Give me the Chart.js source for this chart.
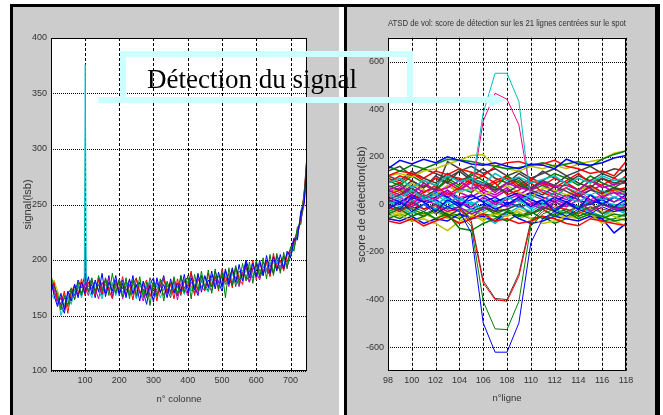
<!DOCTYPE html>
<html lang="fr">
<head>
<meta charset="utf-8">
<script src="https://cdn.jsdelivr.net/npm/chart.js"></script>
<style>
  body { margin: 0; background: #fff; width: 663px; height: 415px; overflow: hidden; position: relative; }
  .trait { position: absolute; background: #000; }
  .panneau { position: absolute; background: #cccccc; }
  canvas { position: absolute; }
</style>
</head>
<body>
<div class="trait" style="left:10px;top:4px;width:650px;height:3px"></div>
<div class="trait" style="left:10px;top:4px;width:3px;height:411px"></div>
<div class="panneau" style="left:13px;top:7px;width:326px;height:408px"></div>
<div class="trait" style="left:344px;top:4px;width:3px;height:411px"></div>
<div class="panneau" style="left:347px;top:7px;width:308px;height:408px"></div>
<div class="trait" style="left:655px;top:4px;width:5px;height:411px"></div>
<canvas id="gauche" width="326" height="408" style="left:13px;top:7px"></canvas>
<canvas id="droite" width="308" height="408" style="left:347px;top:7px"></canvas>
<canvas id="annot" width="663" height="415" style="left:0;top:0;pointer-events:none"></canvas>
<script>
// ---- graphe de gauche : signal par colonne ----
const colonnes = [1,10,20,30,40,50,60,70,80,90,100,110,120,130,140,150,160,170,180,190,200,210,220,230,240,250,260,270,280,290,300,310,320,330,340,350,360,370,380,390,400,410,420,430,440,450,460,470,480,490,500,510,520,530,540,550,560,570,580,590,600,610,620,630,640,650,660,670,680,690,700,710,720,730,740,748];
const signalA = [182,168,158,170,155,172,163,178,166,180,170,185,169,182,171,188,167,180,172,186,168,179,166,183,170,178,163,181,168,177,162,184,171,178,166,183,170,179,172,187,170,184,173,188,171,186,175,190,174,189,176,192,178,193,180,196,181,198,184,197,185,200,186,204,188,203,190,205,192,208,202,218,220,242,252,290];
const signalB = [186,176,170,155,168,158,175,164,180,168,182,171,184,170,186,172,183,168,188,170,182,167,184,165,182,168,185,166,180,159,181,167,183,163,181,170,185,168,186,171,186,165,187,172,190,173,191,170,192,174,190,166,193,177,195,178,197,181,198,179,200,184,202,183,205,186,206,188,207,192,212,208,230,232,262,280];
const signalC = [175,180,163,160,172,152,170,178,168,183,168,180,174,168,183,170,181,173,165,182,172,185,168,178,164,183,170,176,182,167,178,163,180,184,170,178,165,183,170,181,175,190,168,183,176,172,188,176,186,172,192,180,188,175,193,183,178,196,186,200,182,197,188,198,185,206,192,200,190,204,210,216,226,236,260,292];
const signalD = [170,165,168,150,160,168,160,173,177,166,178,174,166,180,173,165,178,172,180,168,176,171,179,170,176,165,178,170,176,181,170,177,166,174,180,169,178,171,176,169,181,172,178,174,183,176,171,183,178,186,175,186,180,188,179,184,191,183,193,184,193,188,195,189,198,190,199,193,200,196,204,212,222,240,256,284];
const signalE = [180,174,160,166,158,166,172,165,176,171,176,168,181,174,165,180,171,184,170,176,180,165,176,182,169,177,172,163,175,180,168,174,178,168,177,172,180,164,179,176,168,180,176,170,182,185,177,172,184,180,178,185,176,190,184,176,189,186,180,193,189,182,194,190,196,188,198,194,202,198,207,210,224,236,250,288];
const signalF = [176,182,172,164,170,162,166,174,170,177,172,178,172,176,180,175,173,177,175,180,174,178,172,176,180,172,176,179,171,176,174,170,176,172,176,180,174,177,181,175,178,174,182,178,175,181,184,178,180,185,180,182,186,182,188,187,185,190,187,188,192,190,191,195,192,197,194,198,196,200,206,215,222,238,258,282];
const signalG = [184,170,164,158,166,160,170,176,172,170,180,176,183,172,178,168,184,174,178,170,183,174,180,168,178,184,170,174,166,184,176,180,170,183,174,166,182,176,168,182,184,176,170,186,180,178,172,186,182,176,186,178,182,192,176,190,186,194,180,192,195,186,198,192,186,200,196,190,204,194,203,214,228,234,262,294];
const signalH = [172,178,166,160,152,170,174,168,182,175,186,172,178,166,184,176,170,186,166,180,170,182,174,170,186,166,180,172,160,178,184,168,176,186,170,180,174,168,186,170,178,188,176,168,186,174,182,176,190,180,172,190,182,178,194,182,186,200,190,184,198,190,186,200,196,188,204,198,194,206,208,220,218,244,254,296];
// pic de détection autour de la colonne 101
const picColonnes = [98, 101, 104];
const picCyan = [178, 376, 180];
const picMagenta = [172, 212, 176];
const xTicksGauche = [100, 200, 300, 400, 500, 600, 700];
const yTicksGauche = [100, 150, 200, 250, 300, 350, 400];

// ---- graphe de droite : score de détection par ligne ----
const lignes = [98,99,100,101,102,103,104,105,106,107,108,109,110,111,112,113,114,115,116,117,118];
const scoresFond = [
  [150,185,170,190,175,200,185,170,165,175,160,150,170,165,150,190,170,165,175,195,205],
  [160,140,165,150,170,190,185,180,170,160,150,155,165,175,160,170,180,160,190,210,225],
  [120,140,130,110,140,125,150,135,120,160,175,180,165,170,185,160,150,130,140,120,180],
  [90,110,70,100,80,120,95,110,85,130,100,115,90,105,120,85,110,90,120,100,110],
  [60,80,40,90,55,70,100,65,85,50,90,70,60,95,75,80,60,100,70,85,90],
  [120,130,115,140,150,170,185,205,210,160,150,140,160,150,165,150,170,180,190,215,225],
  [20,40,70,30,60,180,150,110,90,70,50,80,60,40,75,55,30,60,45,70,50],
  [0,-20,30,10,-30,20,-10,40,10,-20,0,30,-10,20,-30,10,-20,40,0,-10,20],
  [-40,-20,-50,-30,-60,-40,-100,-110,-80,-60,-30,-50,-40,-20,-50,-30,-60,-40,-50,-70,-60],
  [-70,-80,-60,-90,-70,-50,-80,-60,-40,-70,-60,-80,-70,-50,-60,-80,-90,-60,-70,-80,-90],
  [50,30,60,20,40,10,30,0,20,-10,30,10,40,20,50,30,10,40,20,30,10],
  [-20,10,-10,20,0,-30,-10,-40,-20,10,-10,20,0,-20,10,-10,20,-30,0,-20,-10],
  [-50,-40,-70,-60,-80,-110,-70,-50,-60,-40,-50,-30,-60,-80,-70,-50,-60,-40,-80,-70,-90],
  [80,60,100,70,120,90,140,100,80,60,90,110,70,100,80,120,90,70,110,90,100],
  [-60,-70,-50,-80,-60,-70,-40,-60,-50,-70,-30,-60,-80,-70,-50,-60,-70,-50,-60,-120,-80],
  [100,80,120,90,60,110,80,130,100,70,120,90,60,100,130,110,80,120,90,70,100],
  [40,60,20,50,80,40,70,110,60,90,40,60,90,50,30,70,40,80,50,60,70],
  [-30,-10,-40,0,-20,10,-30,-20,-50,-80,-40,-10,-30,0,-20,-40,-10,-30,-50,-20,-40],
  [10,30,0,40,20,50,10,-10,30,0,20,40,10,-10,20,0,40,10,30,50,20],
  [70,50,90,60,40,80,50,70,40,60,80,50,30,70,60,40,60,80,40,60,50],
  [-10,-30,10,-20,0,-50,-20,-60,-10,-30,-20,0,-40,-10,-30,0,-20,10,-40,-10,-30],
  [30,10,40,20,50,30,0,20,40,10,30,50,20,0,30,10,40,20,0,30,10],
  [-40,-60,-30,-50,-20,-40,-60,-30,-10,-40,-20,-50,-30,-60,-40,-20,-50,-30,-60,-40,-50],
  [110,90,130,100,80,120,110,90,70,100,120,80,110,90,70,100,130,90,110,80,120],
  [0,20,-10,30,10,-20,20,0,-30,10,-10,20,-20,10,30,0,-10,20,0,-20,10],
  [60,40,80,50,70,30,60,90,50,30,60,40,70,90,50,70,40,60,80,50,40],
  [-20,-40,-10,-50,-30,-60,-20,-40,-70,-30,-50,-20,-40,-10,-30,-60,-40,-20,-30,-50,-70],
  [140,160,120,150,130,110,140,160,130,150,120,140,110,130,150,120,140,160,130,150,140],
  [20,0,40,10,30,60,20,40,10,30,0,20,50,30,10,40,20,0,30,10,40],
  [-60,-40,-70,-50,-30,-50,-80,-60,-40,-50,-70,-40,-60,-50,-80,-60,-30,-50,-70,-60,-40],
  [90,120,100,70,110,90,60,100,120,90,110,70,100,80,110,90,60,100,80,110,90],
  [10,-10,20,-20,0,30,-10,10,-20,20,-10,0,30,-20,10,-10,20,-30,10,0,-10],
  [50,70,30,60,40,80,50,30,60,40,70,30,50,60,40,20,50,70,30,60,40],
  [-30,-50,-20,-40,-60,-30,-50,-20,-40,-10,-30,-60,-40,-20,-50,-30,-10,-40,-60,-30,-20],
  [120,100,140,110,90,130,100,120,150,110,90,130,100,140,110,90,120,100,130,110,150],
  [-10,10,-20,0,20,-10,10,-20,0,-30,10,-10,0,20,-20,10,-10,0,20,-10,0],
  [70,90,50,80,60,100,70,50,90,60,80,100,60,80,50,90,60,80,50,70,60]
];
// lignes qui contiennent le spot
const scoreCyan    = [40,20,60,30,50,20,60,60,384,551,551,432,20,60,30,70,50,40,60,30,50];
const scoreMagenta = [30,50,10,40,20,60,30,40,350,467,442,334,40,20,50,30,60,20,40,10,30];
const scoreBleu    = [-20,10,-30,0,-40,-10,-30,-120,-498,-621,-621,-498,-162,-60,-30,-50,-20,-40,-10,-30,-20];
const scoreVert    = [-30,-10,-20,-40,-20,-50,-40,-92,-407,-523,-526,-407,-92,-40,-20,-50,-30,-10,-40,-20,-30];
const scoreRouge   = [-10,-30,0,-20,-10,-30,-20,-80,-330,-400,-407,-302,-80,-30,-10,-20,-40,-10,-20,-30,-10];
const scoreGris    = [0,-20,-10,-30,0,-20,-10,-70,-320,-395,-400,-290,-70,-20,0,-30,-10,-20,0,-10,-20];
const xTicksDroite = [98,100,102,104,106,108,110,112,114,116,118];
const yTicksDroite = [-600,-400,-200,0,200,400,600];

const couleurs = ['#0000ff', '#008000', '#ff0000', '#00bfbf', '#bf00bf', '#bfbf00', '#404040'];
const police = "'Liberation Sans', Arial, sans-serif";

function serie(xs, ys, color, width) {
  return {
    data: xs.map((x, i) => ({x: x, y: ys[i]})),
    borderColor: color,
    borderWidth: width || 1,
    pointRadius: 0,
    tension: 0,
    fill: false
  };
}

// fond blanc, grille pointillée style matlab, cadre noir
const cadre = {
  id: 'cadre',
  beforeDraw(chart) {
    const a = chart.chartArea, ctx = chart.ctx;
    ctx.save();
    ctx.fillStyle = '#fff';
    ctx.fillRect(a.left, a.top, a.width, a.height);
    ctx.restore();
  },
  beforeDatasetsDraw(chart) {
    const a = chart.chartArea, ctx = chart.ctx;
    const sx = chart.scales.x, sy = chart.scales.y;
    ctx.save();
    ctx.strokeStyle = '#000';
    ctx.lineWidth = 1;
    ctx.setLineDash([3, 2]);
    sx.ticks.forEach(t => {
      const px = Math.round(sx.getPixelForValue(t.value)) + 0.5;
      ctx.beginPath();
      ctx.moveTo(px, a.top);
      ctx.lineTo(px, a.bottom);
      ctx.stroke();
    });
    ctx.setLineDash([1, 1]);
    sy.ticks.forEach(t => {
      const py = Math.round(sy.getPixelForValue(t.value)) + 0.5;
      ctx.beginPath();
      ctx.moveTo(a.left, py);
      ctx.lineTo(a.right, py);
      ctx.stroke();
    });
    ctx.restore();
  },
  afterDraw(chart) {
    const a = chart.chartArea, ctx = chart.ctx;
    ctx.save();
    ctx.strokeStyle = '#000';
    ctx.lineWidth = 1;
    ctx.strokeRect(Math.round(a.left) + 0.5, Math.round(a.top) + 0.5, Math.round(a.width) - 1, Math.round(a.height) - 1);
    ctx.restore();
  }
};

function axe(min, max, ticks, fit, titre) {
  return {
    type: 'linear',
    min: min,
    max: max,
    afterBuildTicks: s => { s.ticks = ticks.map(v => ({value: v})); },
    afterFit: fit,
    grid: { display: false, drawTicks: false },
    border: { display: false },
    ticks: { font: { family: police, size: 9 }, color: '#333', padding: 4, maxRotation: 0, autoSkip: false },
    title: titre
  };
}

Chart.defaults.animation = false;

// graphe de gauche
const datasetsGauche = [
  serie(picColonnes, picCyan, couleurs[3]),
  serie(picColonnes, picMagenta, couleurs[4]),
  serie(colonnes, signalA, couleurs[0]),
  serie(colonnes, signalB, couleurs[1]),
  serie(colonnes, signalC, couleurs[2]),
  serie(colonnes, signalD, couleurs[3]),
  serie(colonnes, signalE, couleurs[4]),
  serie(colonnes, signalF, couleurs[5]),
  serie(colonnes, signalG, couleurs[6]),
  serie(colonnes, signalH, couleurs[0])
];

new Chart(document.getElementById('gauche'), {
  type: 'line',
  data: { datasets: datasetsGauche },
  options: {
    responsive: false,
    layout: { padding: { top: 31, right: 32, left: 0, bottom: 0 } },
    plugins: { legend: { display: false }, tooltip: { enabled: false } },
    scales: {
      x: axe(1, 748, xTicksGauche, s => { s.height = 44; },
        { display: true, text: 'n° colonne', color: '#333', font: { family: police, size: 9.5 }, padding: { top: 0, bottom: 10 } }),
      y: axe(100, 400, yTicksGauche, s => { s.width = 38; },
        { display: true, text: 'signal(lsb)', color: '#333', font: { family: police, size: 11 }, padding: { top: 8, bottom: 0 } })
    }
  },
  plugins: [cadre]
});

// graphe de droite
const datasetsDroite = [
  serie(lignes, scoreCyan, couleurs[3]),
  serie(lignes, scoreMagenta, '#ff0080'),
  serie(lignes, scoreBleu, couleurs[0]),
  serie(lignes, scoreVert, couleurs[1]),
  serie(lignes, scoreRouge, couleurs[2]),
  serie(lignes, scoreGris, couleurs[6])
];
scoresFond.forEach((ys, i) => datasetsDroite.push(serie(lignes, ys, couleurs[i % couleurs.length], 1.5)));

new Chart(document.getElementById('droite'), {
  type: 'line',
  data: { datasets: datasetsDroite },
  options: {
    responsive: false,
    layout: { padding: { top: 0, right: 29, left: 0, bottom: 0 } },
    plugins: {
      legend: { display: false },
      tooltip: { enabled: false },
      title: {
        display: true,
        fullSize: false,
        text: 'ATSD de vol: score de détection sur les 21 lignes centrées sur le spot',
        color: '#333',
        font: { family: police, size: 8.5, weight: 'normal' },
        padding: { top: 12, bottom: 8.6 }
      }
    },
    scales: {
      x: axe(98, 118, xTicksDroite, s => { s.height = 44; },
        { display: true, text: 'n°ligne', color: '#333', font: { family: police, size: 9.5 }, padding: { top: 0, bottom: 11 } }),
      y: axe(-700, 700, yTicksDroite, s => { s.width = 41; },
        { display: true, text: 'score de détection(lsb)', color: '#333', font: { family: police, size: 11.5 }, padding: { top: 8, bottom: 0 } })
    }
  },
  plugins: [cadre]
});

// annotation "Détection du signal" posée par-dessus les deux graphes
const ctx = document.getElementById('annot').getContext('2d');
ctx.strokeStyle = '#ccffff';
ctx.fillStyle = '#ccffff';
ctx.lineWidth = 6;
ctx.beginPath();
ctx.moveTo(123, 100);
ctx.lineTo(123, 54);
ctx.lineTo(410, 54);
ctx.lineTo(410, 100);
ctx.stroke();
ctx.beginPath();
ctx.moveTo(98, 100);
ctx.lineTo(490, 100);
ctx.stroke();
ctx.beginPath();
ctx.moveTo(489, 93);
ctx.lineTo(506, 100);
ctx.lineTo(489, 107);
ctx.closePath();
ctx.fill();
ctx.fillStyle = '#000';
ctx.font = "27px 'Liberation Serif', 'Times New Roman', serif";
ctx.textBaseline = 'alphabetic';
ctx.fillText('Détection du signal', 147, 88);
</script>
</body>
</html>
